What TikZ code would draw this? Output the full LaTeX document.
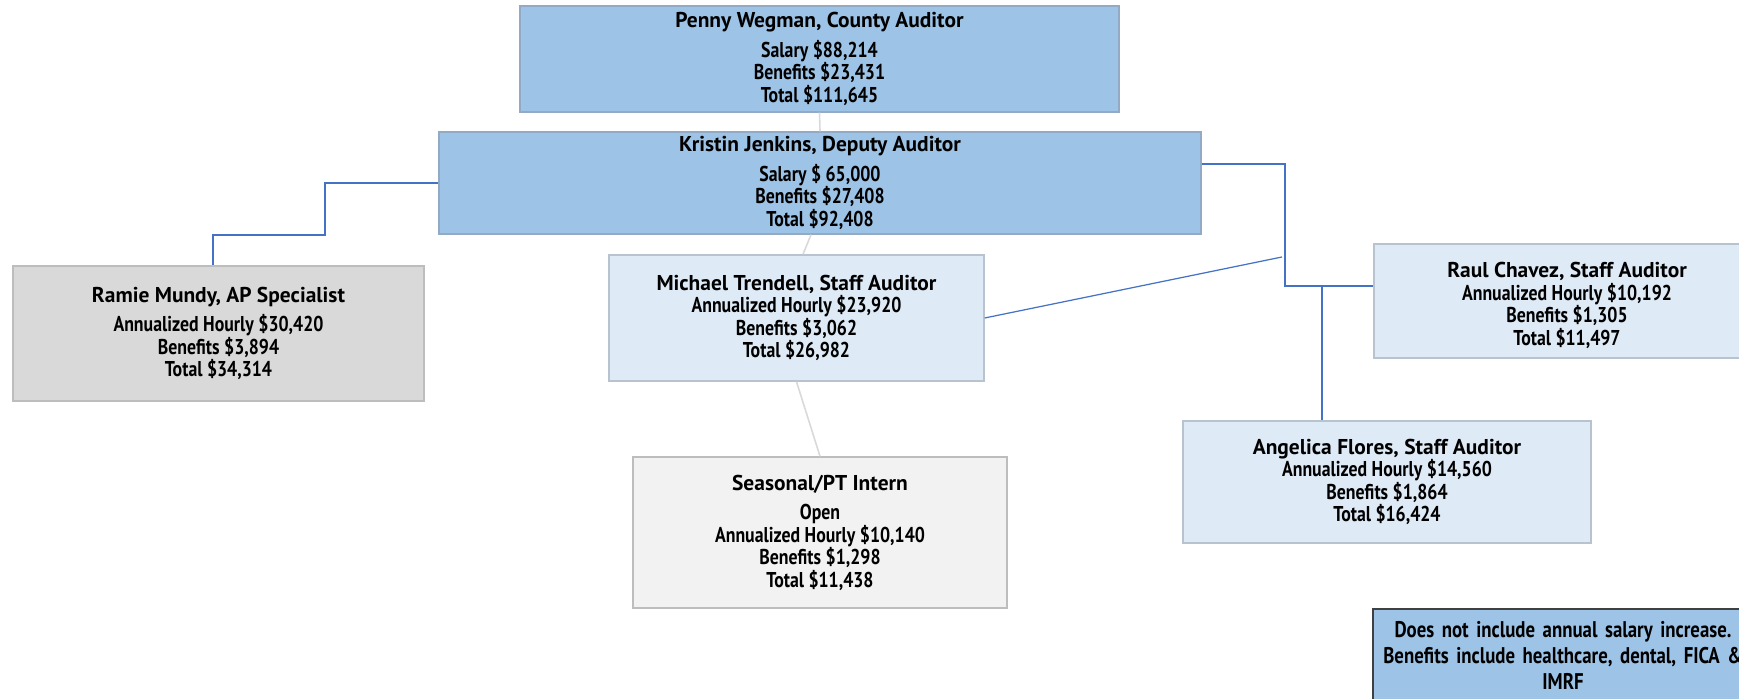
\documentclass[tikz,border=0pt]{standalone}
\usepackage{fontspec}
\usepackage{tikz}
\usetikzlibrary{calc}
\newfontfamily\headfont{PT Sans}
\newfontfamily\bodyfont[FakeStretch=0.83]{PT Sans}
\newcommand{\hd}[1]{{\headfont\bfseries\fontsize{12.2}{12.8}\selectfont #1}}

\begin{document}
\begin{tikzpicture}[
    every node/.style={align=center, text=black, inner sep=0pt,
      font=\bodyfont\bfseries\fontsize{12.2}{12.8}\selectfont},
    topbox/.style={draw=topline, fill=topfill, line width=0.8pt},
    staffbox/.style={draw=staffline, fill=stafffill, line width=0.8pt},
    apbox/.style={draw=apline, fill=apfill, line width=0.8pt},
    internbox/.style={draw=apline, fill=internfill, line width=0.8pt},
    notebox/.style={draw=black!75, fill=topfill, line width=0.9pt,
      font=\bodyfont\bfseries\fontsize{12.9}{14.8}\selectfont},
    blueline/.style={draw=linkblue, line width=0.7pt},
    grayline/.style={draw=black!15, line width=0.9pt}
  ]
        \definecolor{topfill}{HTML}{9DC3E6}
        \definecolor{topline}{HTML}{93AAC4}
        \definecolor{stafffill}{HTML}{DEEAF6}
        \definecolor{staffline}{HTML}{B8C3D0}
        \definecolor{apfill}{HTML}{D9D9D9}
        \definecolor{apline}{HTML}{BDBDBD}
        \definecolor{internfill}{HTML}{F2F2F2}
        \definecolor{linkblue}{HTML}{4472C4}

        \clip (0,0) rectangle (34.78,13.98);
        \fill[white] (0,0) rectangle (34.78,13.98);

        \node[topbox, minimum width=11.98cm, minimum height=2.12cm] (penny) at (16.39,12.8)
          {\hd{Penny Wegman, County Auditor}\\[4pt] Salary \$88,214\\ Benefits \$23,431\\ Total \$111,645};
        \node[topbox, minimum width=15.24cm, minimum height=2.04cm] (kristin) at (16.4,10.32)
          {\hd{Kristin Jenkins, Deputy Auditor}\\[4pt] Salary \$ 65,000\\ Benefits \$27,408\\ Total \$92,408};
        \node[apbox, minimum width=8.22cm, minimum height=2.7cm] (ramie) at (4.37,7.31)
          {\hd{Ramie Mundy, AP Specialist}\\[4pt] Annualized Hourly \$30,420\\ Benefits \$3,894\\ Total \$34,314};
        \node[staffbox, minimum width=7.5cm, minimum height=2.52cm] (michael) at (15.93,7.62)
          {\hd{Michael Trendell, Staff Auditor}\\ Annualized Hourly \$23,920\\ Benefits \$3,062\\ Total \$26,982};
        \node[internbox, minimum width=7.48cm, minimum height=3.02cm] (intern) at (16.4,3.33)
          {\hd{Seasonal/PT Intern}\\[4pt] Open\\ Annualized Hourly \$10,140\\ Benefits \$1,298\\ Total \$11,438};
        \node[staffbox, minimum width=7.72cm, minimum height=2.28cm] (raul) at (31.34,7.96)
          {\hd{\rule{0pt}{14pt}Raul Chavez, Staff Auditor}\\ Annualized Hourly \$10,192\\ Benefits \$1,305\\ Total \$11,497};
        \node[staffbox, minimum width=8.16cm, minimum height=2.44cm] (angelica) at (27.74,4.34)
          {\hd{Angelica Flores, Staff Auditor}\\ Annualized Hourly \$14,560\\ Benefits \$1,864\\ Total \$16,424};
        \node[notebox, text width=7.6cm, inner xsep=0pt, inner ysep=7pt, anchor=north] (note) at (31.26,1.82)
          {Does not include annual salary increase.\\ Benefits include healthcare, dental, FICA \&\\ IMRF\\[8pt]};

        \draw[grayline] (penny.south) -- (kristin.north);
        \draw[grayline] ($(kristin.south)+(-0.18,0)$) -- ($(michael.north)+(0.13,0)$);
        \draw[grayline] (michael.south) -- (intern.north);

        \coordinate (lelbow) at (6.5,9.28);
        \draw[blueline] (kristin.west) -| (lelbow) -| ($(ramie.north)+(-0.11,0)$);

        \coordinate (kout) at ($(kristin.east)+(0,0.38)$);
        \coordinate (relbow) at (25.7,8.26);
        \coordinate (rbranch) at (26.44,8.26);
        \draw[blueline] (kout) -| (relbow) -- (relbow -| raul.west);
        \draw[blueline] (rbranch) -- (rbranch |- angelica.north);

        \coordinate (mend) at (25.64,8.84);
        \draw[blueline] (michael.east) -- (mend);
\end{tikzpicture}
\end{document}
